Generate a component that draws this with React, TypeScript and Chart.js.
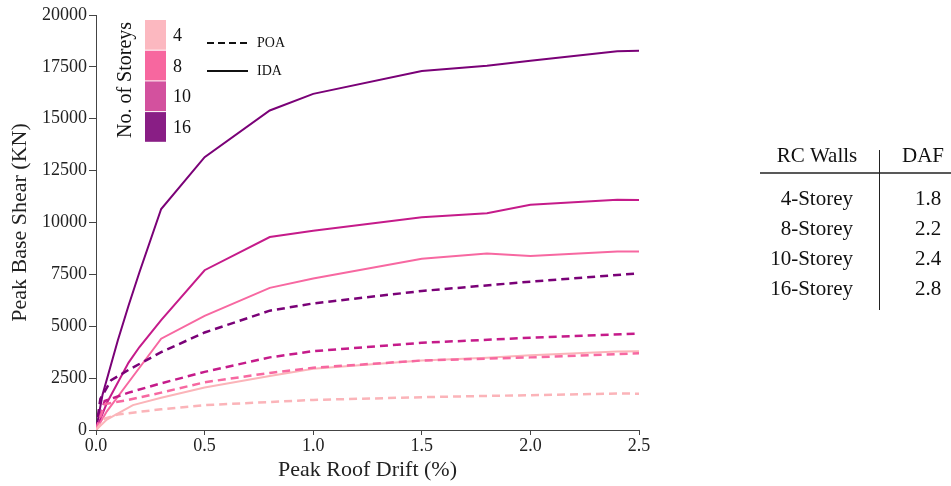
import React, { useEffect, useRef } from "react";
import { Chart, registerables } from "chart.js";

Chart.register(...registerables);

// ---- Data (Peak Roof Drift %, Peak Base Shear kN) ----
const drift16IDA = [0, 0.03, 0.1, 0.15, 0.2, 0.3, 0.5, 0.8, 1.0, 1.5, 1.8, 2.0, 2.4, 2.5];
const shear16IDA = [0, 1700, 4300, 6000, 7600, 10650, 13150, 15400, 16200, 17300, 17550, 17800, 18250, 18280];

const drift10IDA = [0, 0.05, 0.15, 0.2, 0.3, 0.5, 0.8, 1.0, 1.5, 1.8, 2.0, 2.4, 2.5];
const shear10IDA = [0, 1300, 3250, 4000, 5300, 7700, 9300, 9600, 10250, 10450, 10850, 11100, 11080];

const drift8IDA = [0, 0.05, 0.15, 0.3, 0.5, 0.8, 1.0, 1.5, 1.8, 2.0, 2.4, 2.5];
const shear8IDA = [0, 900, 2300, 4400, 5500, 6850, 7300, 8250, 8500, 8380, 8600, 8600];

const drift4IDA = [0, 0.05, 0.17, 0.3, 0.5, 0.8, 1.0, 1.5, 1.8, 2.0, 2.4, 2.5];
const shear4IDA = [0, 500, 1200, 1550, 2050, 2600, 2950, 3350, 3480, 3600, 3780, 3800];

const drift16POA = [0, 0.02, 0.07, 0.15, 0.3, 0.5, 0.8, 1.0, 1.5, 2.0, 2.5];
const shear16POA = [0, 1500, 2400, 2900, 3750, 4700, 5750, 6100, 6700, 7150, 7550];

const drift10POA = [0, 0.04, 0.15, 0.3, 0.5, 0.8, 1.0, 1.5, 2.0, 2.5];
const shear10POA = [0, 1400, 1800, 2250, 2800, 3500, 3800, 4200, 4450, 4650];

const drift8POA = [0, 0.04, 0.15, 0.3, 0.5, 0.8, 1.0, 1.5, 2.0, 2.5];
const shear8POA = [0, 1250, 1450, 1800, 2300, 2750, 3000, 3350, 3500, 3700];

const drift4POA = [0, 0.04, 0.1, 0.3, 0.5, 0.8, 1.0, 1.5, 2.0, 2.4, 2.5];
const shear4POA = [0, 550, 750, 1000, 1200, 1350, 1450, 1580, 1680, 1760, 1750];

const storeyLabels = ["4", "8", "10", "16"];
const storeyColors = ["#fbb4b9", "#f768a1", "#c51b8a", "#7a0177"];
const legendBoxColors = ["#fcb8c0", "#f7679f", "#d3519e", "#891e85"];

const tableHeader = ["RC Walls", "DAF"];
const tableRows = ["4-Storey", "8-Storey", "10-Storey", "16-Storey"];
const tableDAF = ["1.8", "2.2", "2.4", "2.8"];

const SERIF = "'Liberation Serif', 'DejaVu Serif', serif";

function pts(xs: number[], ys: number[]) {
  return xs.map((x, i) => ({ x, y: ys[i] }));
}

const overlayPlugin = {
  id: "overlay",
  afterDraw(chart: any) {
    const ctx = chart.ctx as CanvasRenderingContext2D;
    ctx.save();
    // Legend: No. of Storeys
    ctx.fillStyle = "#111";
    ctx.font = `20px ${SERIF}`;
    ctx.textAlign = "center";
    ctx.textBaseline = "middle";
    ctx.save();
    ctx.translate(126, 80);
    ctx.rotate(-Math.PI / 2);
    ctx.fillText("No. of Storeys", 0, 0);
    ctx.restore();
    const boxTop = 20;
    const boxH = 30.7;
    storeyLabels.forEach((lab, i) => {
      ctx.fillStyle = legendBoxColors[i];
      ctx.fillRect(145, boxTop + i * boxH, 21, boxH - 1);
      ctx.fillStyle = "#111";
      ctx.font = `18px ${SERIF}`;
      ctx.textAlign = "left";
      ctx.fillText(lab, 173, boxTop + i * boxH + boxH / 2 + 1);
    });
    // Line style legend
    ctx.strokeStyle = "#111";
    ctx.lineWidth = 2;
    ctx.setLineDash([7, 4]);
    ctx.beginPath();
    ctx.moveTo(207, 43);
    ctx.lineTo(248, 43);
    ctx.stroke();
    ctx.setLineDash([]);
    ctx.beginPath();
    ctx.moveTo(207, 71);
    ctx.lineTo(248, 71);
    ctx.stroke();
    ctx.font = `14px ${SERIF}`;
    ctx.fillStyle = "#111";
    ctx.textAlign = "left";
    ctx.fillText("POA", 257, 43);
    ctx.fillText("IDA", 257, 71);

    // Table
    ctx.font = `21px ${SERIF}`;
    ctx.textAlign = "center";
    ctx.fillText(tableHeader[0], 817, 156);
    ctx.fillText(tableHeader[1], 923, 156);
    ctx.strokeStyle = "#222";
    ctx.lineWidth = 1.5;
    ctx.beginPath();
    ctx.moveTo(760, 173);
    ctx.lineTo(951, 173);
    ctx.stroke();
    ctx.lineWidth = 1;
    ctx.beginPath();
    ctx.moveTo(879.5, 150);
    ctx.lineTo(879.5, 310);
    ctx.stroke();
    const rowY = [199, 229, 259, 289];
    tableRows.forEach((r, i) => {
      ctx.textAlign = "right";
      ctx.fillText(r, 853, rowY[i]);
      ctx.textAlign = "center";
      ctx.fillText(tableDAF[i], 928, rowY[i]);
    });
    ctx.restore();
  },
};

export default function App() {
  const ref = useRef<HTMLCanvasElement | null>(null);
  useEffect(() => {
    if (!ref.current) return;
    const mk = (xs: number[], ys: number[], color: string, dashed: boolean) => ({
      data: pts(xs, ys),
      borderColor: color,
      backgroundColor: color,
      borderWidth: dashed ? 2.5 : 2,
      borderDash: dashed ? [8, 5] : [],
      pointRadius: 0,
      tension: 0,
      fill: false,
    });
    const chart = new Chart(ref.current, {
      type: "line",
      data: {
        datasets: [
          mk(drift4POA, shear4POA, storeyColors[0], true),
          mk(drift8POA, shear8POA, storeyColors[1], true),
          mk(drift10POA, shear10POA, storeyColors[2], true),
          mk(drift16POA, shear16POA, storeyColors[3], true),
          mk(drift4IDA, shear4IDA, storeyColors[0], false),
          mk(drift8IDA, shear8IDA, storeyColors[1], false),
          mk(drift10IDA, shear10IDA, storeyColors[2], false),
          mk(drift16IDA, shear16IDA, storeyColors[3], false),
        ],
      },
      options: {
        responsive: false,
        animation: false,
        layout: { padding: { top: 15, right: 312, bottom: 0, left: 0 } },
        plugins: { legend: { display: false }, tooltip: { enabled: false } },
        scales: {
          x: {
            type: "linear",
            min: 0,
            max: 2.5,
            afterFit: (s: any) => {
              s.height = 56;
            },
            ticks: {
              stepSize: 0.5,
              color: "#222",
              font: { family: SERIF, size: 18 },
              padding: 0,
              callback: (v: any) => Number(v).toFixed(1),
              maxRotation: 0,
            },
            grid: { drawOnChartArea: false, drawTicks: true, tickLength: 5, color: "#444" },
            border: { display: true, color: "#444", width: 1 },
            title: {
              display: true,
              text: "Peak Roof Drift (%)",
              color: "#222",
              font: { family: SERIF, size: 22 },
              padding: { top: 0, bottom: 3 },
            },
          },
          y: {
            min: 0,
            max: 20000,
            afterFit: (s: any) => {
              s.width = 96;
            },
            ticks: {
              stepSize: 2500,
              color: "#222",
              font: { family: SERIF, size: 18 },
              padding: 2,
              callback: (v: any) => String(v),
            },
            grid: { drawOnChartArea: false, drawTicks: true, tickLength: 7, color: "#444" },
            border: { display: true, color: "#444", width: 1 },
            title: {
              display: true,
              text: "Peak Base Shear (KN)",
              color: "#222",
              font: { family: SERIF, size: 22 },
              padding: { top: 7, bottom: 0 },
            },
          },
        },
      },
      plugins: [overlayPlugin],
    } as any);
    return () => chart.destroy();
  }, []);
  return (
    <div style={{ position: "absolute", left: 0, top: 0, width: 951, height: 486, background: "#fff" }}>
      <canvas ref={ref} width={951} height={486} />
    </div>
  );
}
